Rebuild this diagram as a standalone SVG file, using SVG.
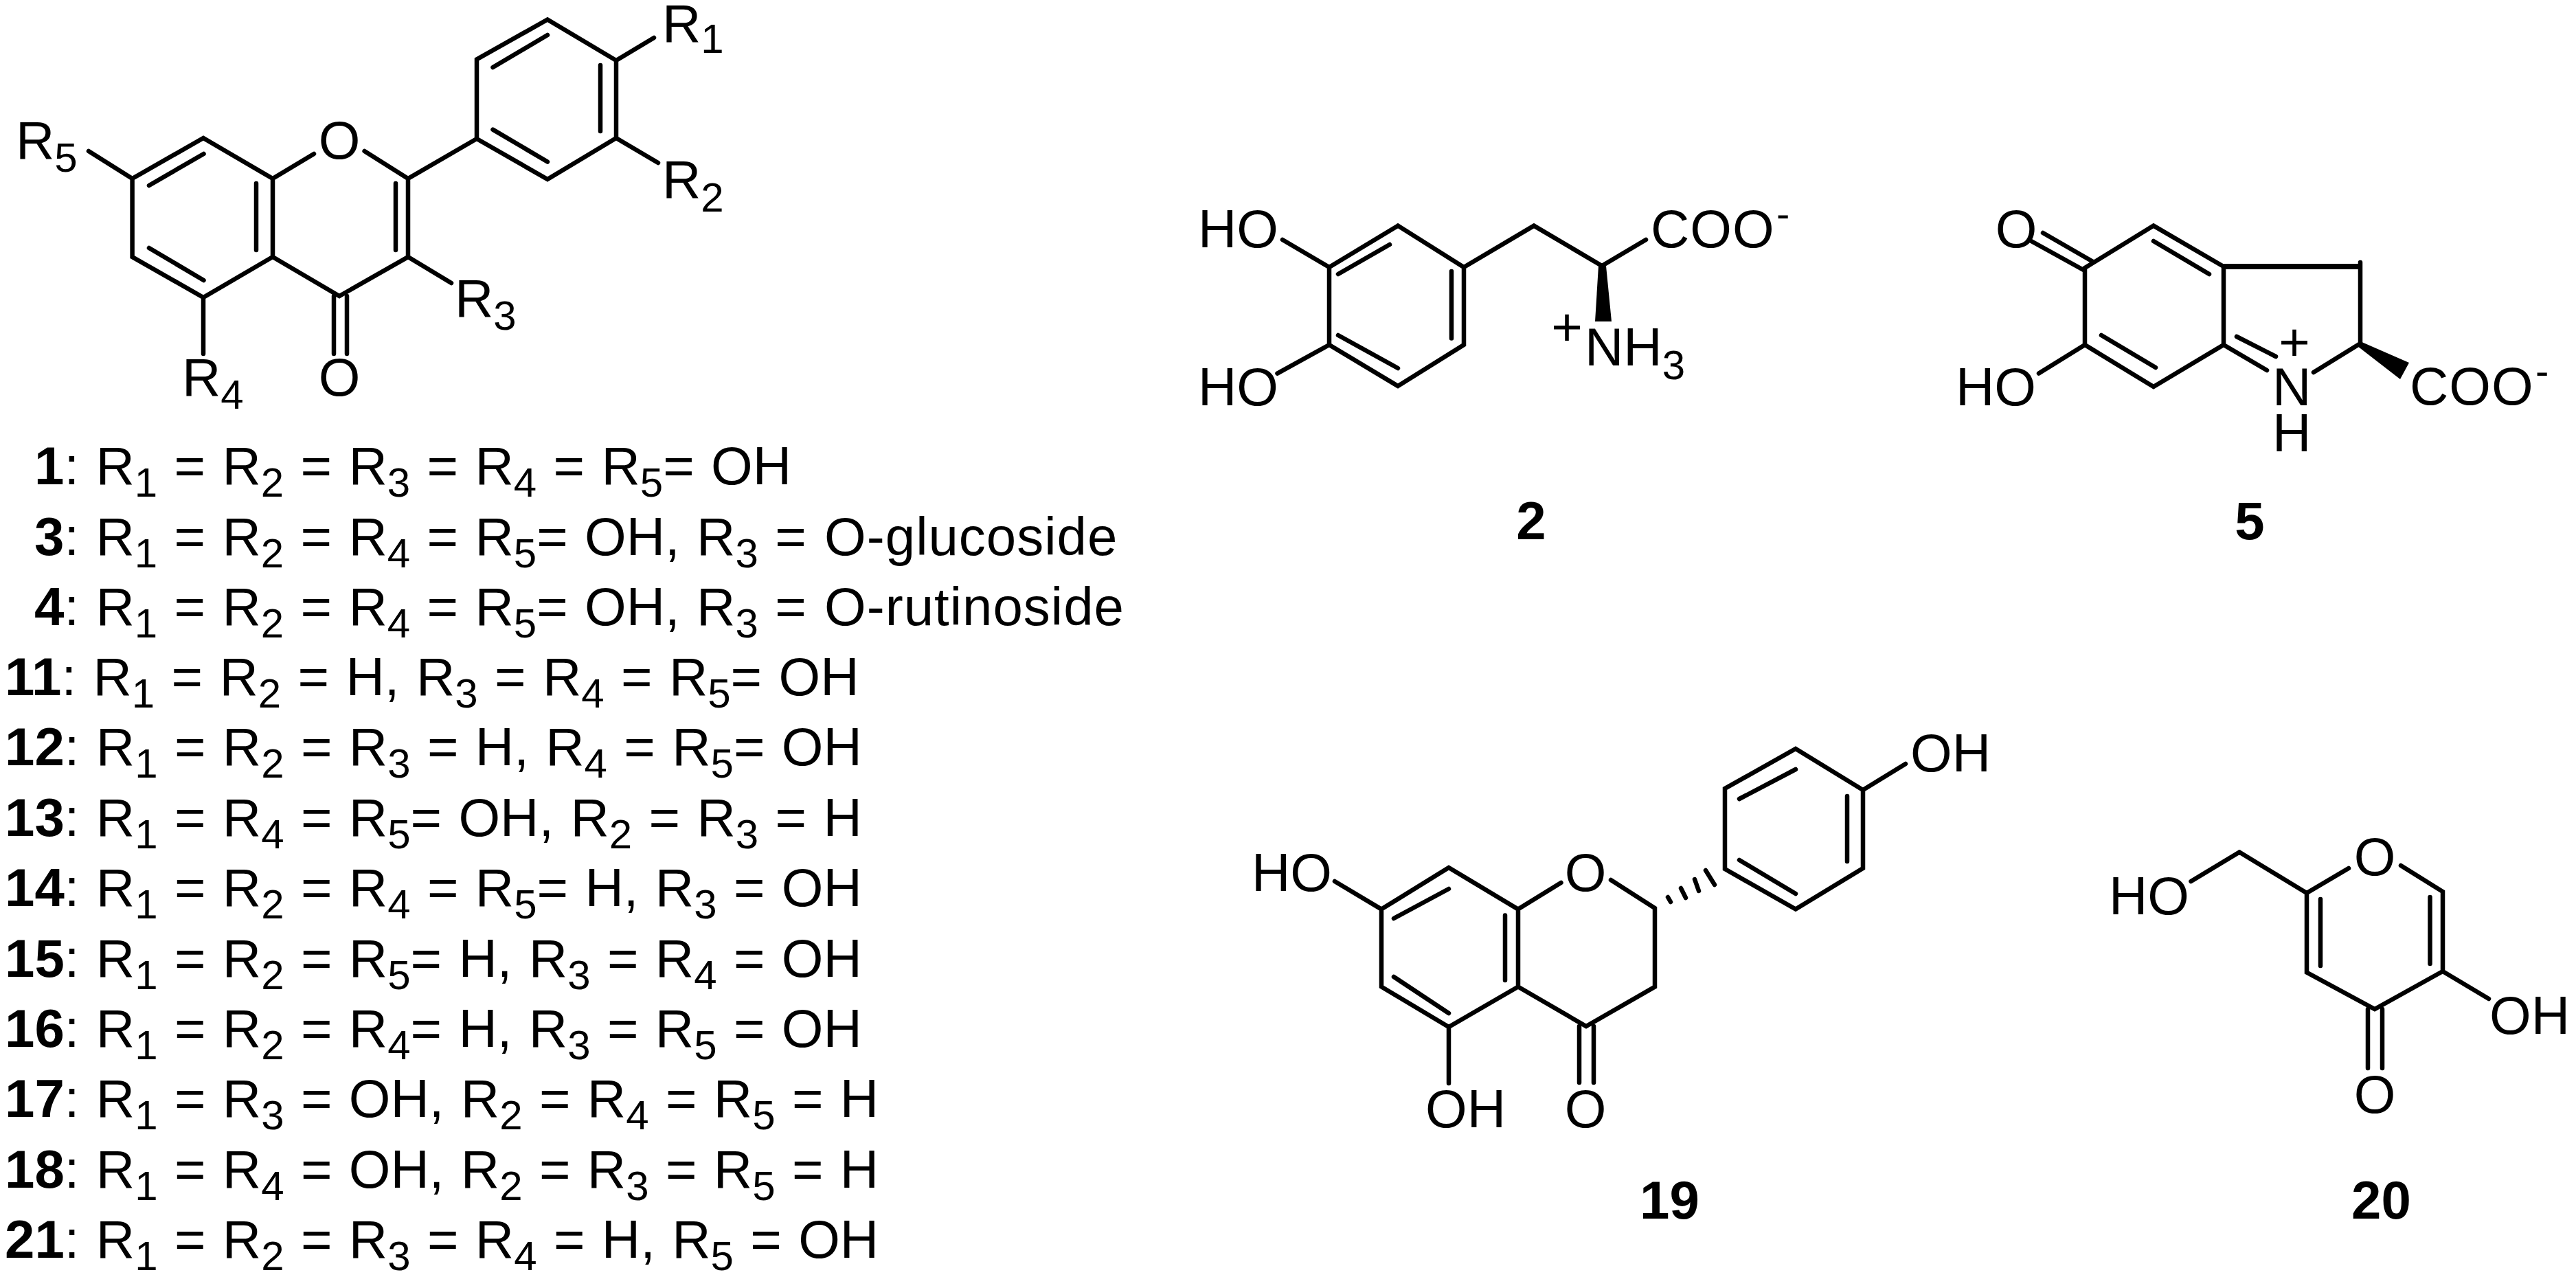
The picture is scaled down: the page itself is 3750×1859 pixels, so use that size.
<svg xmlns="http://www.w3.org/2000/svg" width="3750" height="1859" viewBox="0 0 3750 1859">
<style>
text{font-family:"Liberation Sans",Arial,sans-serif;font-size:78px;fill:#000;white-space:pre}
.l{word-spacing:2.7px}
.s{font-size:60px}
.d{font-size:58px}
.b{font-weight:bold}
.m{text-anchor:middle}
.c{letter-spacing:1px}
.t{letter-spacing:1px}
.b1{fill:none;stroke:#000;stroke-width:6.5;stroke-linecap:round;stroke-linejoin:miter;stroke-miterlimit:4}
</style>
<rect width="3750" height="1859" fill="#fff"/>
<g id="connectors">
<path class="b1" d="M192.600 260L296 201L397 260V374L296 433L192.600 374ZM397 374L494 431L594 374V260L694 202V86.500L797 28.500L897 88V201L797 261L694 202M397 260L457 224M530.600 220L594 260M217 270L296.500 224M373 267V364M576 267V364M217 361L296.500 408M717.500 98L797 51M874 95V191M717.500 188.600L797 235.500M897 88L952 55M897 201L958 237M594 374L657 412M296 433V515M192.600 260L129 220M486 431V515M505 431V515"/>
<path class="b1" d="M1935 389L2035 328.600L2131 389V502L2035 562L1935 502ZM2131 389L2233 328.600L2332 387L2396 349M1935 389L1867 349M1935 502L1859.500 543.600M1948 399L2023 356M2113 395V492.500M1948 488L2035 536"/>
<path class="b1" d="M3035 390L3135 328.600L3237 388V502L3135 563L3035 502ZM3436 382V500M3046 380.500L2974 339M3033 393L2957 351M3035 502L2968 543.600M3135 351L3216 399M3059 488L3138 535M3237 502L3300 539M3256 490L3313 519M3436 500L3368 542"/>
<path fill="none" stroke="#000" stroke-width="8" d="M3237 388H3436"/>
<path class="b1" d="M2011 1323.600L2109 1263L2210 1323.600V1436.500L2109 1495L2011 1436.500ZM2210 1436.500L2309 1494L2409 1436.500V1322L2345 1281M2210 1323.600L2272.500 1285M2511 1265L2614 1323.600L2712 1264V1150L2614 1090L2511 1148ZM2712 1150L2774 1112M2011 1323.600L1943 1283M2109 1495V1577M2299 1494V1576M2320 1494V1576M2029 1337L2109 1294M2191 1332.500V1427M2029 1422L2109 1475M2532 1163L2614 1120M2689 1159V1254M2532 1252L2614 1301"/>
<path class="b1" d="M2428 1306L2432 1313M2447 1293L2454 1307M2467 1280L2473 1297M2483 1267L2496 1288"/>
<path class="b1" d="M3260 1240.500L3358 1300V1415.600L3457 1469L3556 1414V1298L3495 1260M3358 1300L3419 1264M3260 1240.500L3189.500 1283M3556 1414L3623 1454M3447 1469V1555M3468 1469V1555M3378 1309V1406M3537.500 1306V1403"/>
<polygon points="2327,387 2338,387 2346,468 2322,468"/>
<polygon points="3436,497 3507,528 3494,552 3432,504"/>
</g>
<g id="flavonoid-core">
<text x="964" y="61">R<tspan class="s" dy="16">1</tspan></text>
<text x="964" y="288">R<tspan class="s" dy="20">2</tspan></text>
<text x="662" y="461">R<tspan class="s" dy="19">3</tspan></text>
<text x="265" y="576">R<tspan class="s" dy="19">4</tspan></text>
<text x="23" y="231">R<tspan class="s" dy="19">5</tspan></text>
<text class="m" x="494" y="231">O</text>
<text class="m" x="494" y="576">O</text>
</g>
<g id="substituent-table">
<text class="l" x="50" y="705"><tspan class="b">1</tspan>: R<tspan class="s" dy="18">1</tspan><tspan dy="-18"> = R</tspan><tspan class="s" dy="18">2</tspan><tspan dy="-18"> = R</tspan><tspan class="s" dy="18">3</tspan><tspan dy="-18"> = R</tspan><tspan class="s" dy="18">4</tspan><tspan dy="-18"> = R</tspan><tspan class="s" dy="18">5</tspan><tspan dy="-18">= OH</tspan></text>
<text class="l" x="50" y="808"><tspan class="b">3</tspan>: R<tspan class="s" dy="18">1</tspan><tspan dy="-18"> = R</tspan><tspan class="s" dy="18">2</tspan><tspan dy="-18"> = R</tspan><tspan class="s" dy="18">4</tspan><tspan dy="-18"> = R</tspan><tspan class="s" dy="18">5</tspan><tspan dy="-18">= OH, R</tspan><tspan class="s" dy="18">3</tspan><tspan dy="-18"> = </tspan><tspan class="t" dx="2">O-glucoside</tspan></text>
<text class="l" x="50" y="910"><tspan class="b">4</tspan>: R<tspan class="s" dy="18">1</tspan><tspan dy="-18"> = R</tspan><tspan class="s" dy="18">2</tspan><tspan dy="-18"> = R</tspan><tspan class="s" dy="18">4</tspan><tspan dy="-18"> = R</tspan><tspan class="s" dy="18">5</tspan><tspan dy="-18">= OH, R</tspan><tspan class="s" dy="18">3</tspan><tspan dy="-18"> = </tspan><tspan class="t" dx="2">O-rutinoside</tspan></text>
<text class="l" x="7" y="1012"><tspan class="b">11</tspan>: R<tspan class="s" dy="18">1</tspan><tspan dy="-18"> = R</tspan><tspan class="s" dy="18">2</tspan><tspan dy="-18"> = H, R</tspan><tspan class="s" dy="18">3</tspan><tspan dy="-18"> = R</tspan><tspan class="s" dy="18">4</tspan><tspan dy="-18"> = R</tspan><tspan class="s" dy="18">5</tspan><tspan dy="-18">= OH</tspan></text>
<text class="l" x="7" y="1114"><tspan class="b">12</tspan>: R<tspan class="s" dy="18">1</tspan><tspan dy="-18"> = R</tspan><tspan class="s" dy="18">2</tspan><tspan dy="-18"> = R</tspan><tspan class="s" dy="18">3</tspan><tspan dy="-18"> = H, R</tspan><tspan class="s" dy="18">4</tspan><tspan dy="-18"> = R</tspan><tspan class="s" dy="18">5</tspan><tspan dy="-18">= OH</tspan></text>
<text class="l" x="7" y="1217"><tspan class="b">13</tspan>: R<tspan class="s" dy="18">1</tspan><tspan dy="-18"> = R</tspan><tspan class="s" dy="18">4</tspan><tspan dy="-18"> = R</tspan><tspan class="s" dy="18">5</tspan><tspan dy="-18">= OH, R</tspan><tspan class="s" dy="18">2</tspan><tspan dy="-18"> = R</tspan><tspan class="s" dy="18">3</tspan><tspan dy="-18"> = H</tspan></text>
<text class="l" x="7" y="1319"><tspan class="b">14</tspan>: R<tspan class="s" dy="18">1</tspan><tspan dy="-18"> = R</tspan><tspan class="s" dy="18">2</tspan><tspan dy="-18"> = R</tspan><tspan class="s" dy="18">4</tspan><tspan dy="-18"> = R</tspan><tspan class="s" dy="18">5</tspan><tspan dy="-18">= H, R</tspan><tspan class="s" dy="18">3</tspan><tspan dy="-18"> = OH</tspan></text>
<text class="l" x="7" y="1422"><tspan class="b">15</tspan>: R<tspan class="s" dy="18">1</tspan><tspan dy="-18"> = R</tspan><tspan class="s" dy="18">2</tspan><tspan dy="-18"> = R</tspan><tspan class="s" dy="18">5</tspan><tspan dy="-18">= H, R</tspan><tspan class="s" dy="18">3</tspan><tspan dy="-18"> = R</tspan><tspan class="s" dy="18">4</tspan><tspan dy="-18"> = OH</tspan></text>
<text class="l" x="7" y="1524"><tspan class="b">16</tspan>: R<tspan class="s" dy="18">1</tspan><tspan dy="-18"> = R</tspan><tspan class="s" dy="18">2</tspan><tspan dy="-18"> = R</tspan><tspan class="s" dy="18">4</tspan><tspan dy="-18">= H, R</tspan><tspan class="s" dy="18">3</tspan><tspan dy="-18"> = R</tspan><tspan class="s" dy="18">5</tspan><tspan dy="-18"> = OH</tspan></text>
<text class="l" x="7" y="1626"><tspan class="b">17</tspan>: R<tspan class="s" dy="18">1</tspan><tspan dy="-18"> = R</tspan><tspan class="s" dy="18">3</tspan><tspan dy="-18"> = OH, R</tspan><tspan class="s" dy="18">2</tspan><tspan dy="-18"> = R</tspan><tspan class="s" dy="18">4</tspan><tspan dy="-18"> = R</tspan><tspan class="s" dy="18">5</tspan><tspan dy="-18"> = H</tspan></text>
<text class="l" x="7" y="1729"><tspan class="b">18</tspan>: R<tspan class="s" dy="18">1</tspan><tspan dy="-18"> = R</tspan><tspan class="s" dy="18">4</tspan><tspan dy="-18"> = OH, R</tspan><tspan class="s" dy="18">2</tspan><tspan dy="-18"> = R</tspan><tspan class="s" dy="18">3</tspan><tspan dy="-18"> = R</tspan><tspan class="s" dy="18">5</tspan><tspan dy="-18"> = H</tspan></text>
<text class="l" x="7" y="1831"><tspan class="b">21</tspan>: R<tspan class="s" dy="18">1</tspan><tspan dy="-18"> = R</tspan><tspan class="s" dy="18">2</tspan><tspan dy="-18"> = R</tspan><tspan class="s" dy="18">3</tspan><tspan dy="-18"> = R</tspan><tspan class="s" dy="18">4</tspan><tspan dy="-18"> = H, R</tspan><tspan class="s" dy="18">5</tspan><tspan dy="-18"> = OH</tspan></text>
</g>
<g id="compound-2">
<text x="1744" y="360">HO</text>
<text x="1744" y="590">HO</text>
<text class="c" x="2403" y="360">COO<tspan class="d" x="2586" y="331">-</tspan></text>
<text class="m" x="2281" y="503">+</text>
<text x="2307" y="532">NH<tspan class="s" dy="20">3</tspan></text>
<text class="b m" x="2229" y="785">2</text>
</g>
<g id="compound-5">
<text class="m" x="2935" y="360">O</text>
<text x="2847" y="590">HO</text>
<text class="m" x="3340" y="525">+</text>
<text x="3308" y="590">N</text>
<text x="3308" y="657">H</text>
<text class="c" x="3508" y="589">COO<tspan class="d" x="3691" y="560">-</tspan></text>
<text class="b m" x="3275" y="785">5</text>
</g>
<g id="compound-19">
<text x="1822" y="1297">HO</text>
<text class="m" x="2308" y="1297">O</text>
<text x="2781" y="1123">OH</text>
<text x="2075" y="1641">OH</text>
<text class="m" x="2308" y="1641">O</text>
<text class="b" x="2387" y="1774">19</text>
</g>
<g id="compound-20">
<text x="3070" y="1331">HO</text>
<text class="m" x="3457" y="1274">O</text>
<text x="3624" y="1505">OH</text>
<text class="m" x="3457" y="1620">O</text>
<text class="b" x="3423" y="1774">20</text>
</g>
</svg>
